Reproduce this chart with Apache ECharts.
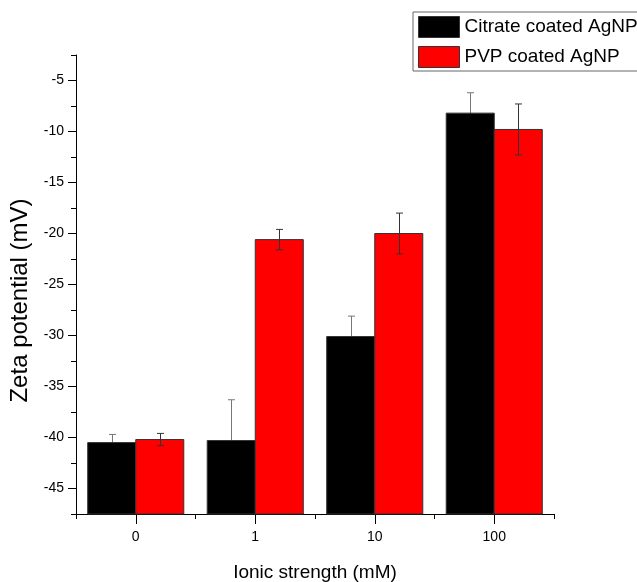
<!DOCTYPE html>
<html>
<head>
<meta charset="utf-8">
<script src="https://cdn.jsdelivr.net/npm/echarts@6/dist/echarts.min.js"></script>
<style>
html,body{margin:0;padding:0;background:#fff;overflow:hidden;}
#chart{width:637px;height:582px;}
</style>
</head>
<body>
<div id="chart"></div>
<script>
const categories = ['0', '1', '10', '100'];
const citrate = [-40.5, -40.3, -30.1, -8.2];
const citrateErr = [0.8, 4.0, 2.0, 2.0];
const pvp = [-40.2, -20.6, -20.0, -9.8];
const pvpErr = [0.6, 1.0, 2.0, 2.5];
const yTickLabels = [-45, -40, -35, -30, -25, -20, -15, -10, -5];

const Y_MIN = -47.5, Y_MAX = -2.5;
const FONT = 'Liberation Sans, Arial, sans-serif';

function makeRender(side, fill, errColor, errBehind) {
  return function (params, api) {
    const idx = api.value(0);
    const val = api.value(1);
    const err = api.value(2);
    const band = api.size([1, 0])[0];
    const w = band * 0.402;
    const c = api.coord([idx, val]);
    const b = api.coord([idx, Y_MIN]);
    const x0 = side < 0 ? c[0] - w : c[0];
    const cx = Math.round(x0 + w / 2) + 0.5;
    const hi = api.coord([idx, val + err])[1];
    const lo = api.coord([idx, val - err])[1];
    const cap = 3.5;
    const rect = { type: 'rect', shape: { x: x0, y: c[1], width: w, height: b[1] - c[1] },
      style: { fill: fill, stroke: '#333', lineWidth: 1 } };
    const errs = [
      { type: 'line', shape: { x1: cx, y1: hi, x2: cx, y2: lo }, style: { stroke: errColor, lineWidth: 1 } },
      { type: 'line', shape: { x1: cx - cap, y1: hi, x2: cx + cap, y2: hi }, style: { stroke: errColor, lineWidth: 1 } },
      { type: 'line', shape: { x1: cx - cap, y1: lo, x2: cx + cap, y2: lo }, style: { stroke: errColor, lineWidth: 1 } }
    ];
    return { type: 'group', children: errBehind ? errs.concat([rect]) : [rect].concat(errs) };
  };
}

const chart = echarts.init(document.getElementById('chart'), null, { renderer: 'canvas' });
const option = {
  animation: false,
  backgroundColor: '#fff',
  textStyle: { fontFamily: FONT },
  grid: [
    { left: 76, right: 83, top: 55, bottom: 68, containLabel: false, outerBoundsMode: 'none' },
    { left: 76, right: 83, top: 80.5, bottom: 93.5, containLabel: false, outerBoundsMode: 'none' }
  ],
  legend: {
    orient: 'vertical',
    left: 413, top: 12,
    padding: [4, 40, 3, 5],
    itemGap: 8,
    itemWidth: 41, itemHeight: 21,
    borderColor: '#666', borderWidth: 1,
    backgroundColor: '#fff',
    textStyle: { fontSize: 19, color: '#000', fontFamily: FONT },
    data: [
      { name: 'Citrate coated AgNP', icon: 'rect', itemStyle: { color: '#000', borderColor: '#333', borderWidth: 1 } },
      { name: 'PVP coated AgNP', icon: 'rect', itemStyle: { color: '#ff0000', borderColor: '#333', borderWidth: 1 } }
    ]
  },
  xAxis: [
    { type: 'category', gridIndex: 0, data: categories, boundaryGap: true,
      axisLine: { lineStyle: { color: '#000', width: 1 } },
      axisTick: { show: true, alignWithLabel: true, length: 10, lineStyle: { color: '#000' } },
      axisLabel: { fontSize: 14, color: '#000', margin: 16, fontFamily: FONT },
      name: 'Ionic strength (mM)', nameLocation: 'middle', nameGap: 49,
      nameTextStyle: { fontSize: 19, color: '#000', fontFamily: FONT },
      splitLine: { show: false } },
    { type: 'category', gridIndex: 0, data: categories, boundaryGap: true, position: 'bottom',
      axisLine: { show: false },
      axisTick: { show: true, alignWithLabel: false, length: 5, lineStyle: { color: '#000' } },
      axisLabel: { show: false }, splitLine: { show: false } },
    { type: 'value', gridIndex: 1, show: false, min: 0, max: 1 }
  ],
  yAxis: [
    { type: 'value', gridIndex: 0, min: Y_MIN, max: Y_MAX, interval: 2.5,
      axisLine: { show: true, lineStyle: { color: '#000', width: 1 } },
      axisTick: { show: true, length: 5, lineStyle: { color: '#000' } },
      axisLabel: { show: false }, splitLine: { show: false } },
    { type: 'value', gridIndex: 1, min: yTickLabels[0], max: yTickLabels[yTickLabels.length - 1], interval: 5,
      axisLine: { show: false },
      axisTick: { show: true, length: 8, lineStyle: { color: '#000' } },
      axisLabel: { fontSize: 14, color: '#000', margin: 12, fontFamily: FONT },
      splitLine: { show: false },
      name: 'Zeta potential (mV)', nameLocation: 'middle', nameGap: 40,
      nameTextStyle: { fontSize: 24, color: '#000', fontFamily: FONT, padding: [0, 32, 0, 0] } }
  ],
  series: [
    { name: 'Citrate coated AgNP', type: 'custom', xAxisIndex: 0, yAxisIndex: 0,
      itemStyle: { color: '#000' },
      encode: { x: 0, y: 1 },
      renderItem: makeRender(-1, '#000', '#777', true),
      data: categories.map((c, i) => [i, citrate[i], citrateErr[i]]) },
    { name: 'PVP coated AgNP', type: 'custom', xAxisIndex: 0, yAxisIndex: 0,
      itemStyle: { color: '#ff0000' },
      encode: { x: 0, y: 1 },
      renderItem: makeRender(1, '#ff0000', '#333', false),
      data: categories.map((c, i) => [i, pvp[i], pvpErr[i]]) }
  ]
};
chart.setOption(option);
</script>
</body>
</html>
